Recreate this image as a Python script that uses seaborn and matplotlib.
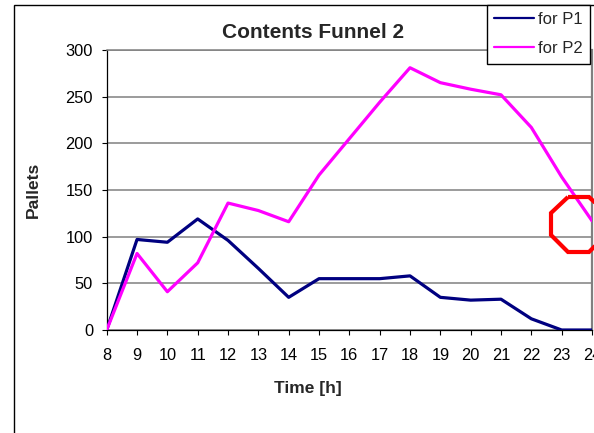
import pandas as pd
import matplotlib
matplotlib.use("Agg")
import matplotlib.pyplot as plt
from matplotlib.patches import Polygon, Rectangle
import seaborn as sns

# Hourly contents of funnel 2 (pallets)
hours = list(range(8, 25))
p1_pallets = [0, 97, 94, 119, 96, 66, 35, 55, 55, 55, 58, 35, 32, 33, 12, 0, 0]
p2_pallets = [0, 82, 41, 72, 136, 128, 116, 166, 205, 244, 281, 265, 258, 252, 217, 164, 117]
series_names = ["for P1", "for P2"]
y_ticks = [0, 50, 100, 150, 200, 250, 300]

df = pd.DataFrame({
    "Time": hours * 2,
    "Pallets": p1_pallets + p2_pallets,
    "Series": [series_names[0]] * len(hours) + [series_names[1]] * len(hours),
})

sns.set_style("white")
plt.rcParams["font.family"] = ["Liberation Sans", "DejaVu Sans"]

W, H = 594, 433
fig = plt.figure(figsize=(W / 100, H / 100), dpi=100)


def fx(px):
    return px / W


def fy(py):
    return 1 - py / H


# chart-area frame (extends past the right and bottom edges)
fig.add_artist(Rectangle((fx(13.5), -0.3), 1.5, fy(4.7) + 0.3,
                         transform=fig.transFigure, fill=False,
                         edgecolor="black", linewidth=1.0, zorder=0))

left, right, top, bottom = 106.7, 592, 50, 330
ax = fig.add_axes([fx(left), fy(bottom), (right - left) / W, (bottom - top) / H])
ax.set_facecolor("white")

palette = {series_names[0]: "#000080", series_names[1]: "#FF00FF"}
sns.lineplot(data=df, x="Time", y="Pallets", hue="Series", palette=palette,
             linewidth=2.3, ax=ax, legend=False, zorder=3)

ax.set_xlim(8, 24)
ax.set_ylim(0, 300)
ax.set_xticks(hours)
ax.set_yticks(y_ticks)
ax.yaxis.grid(True, color="#808080", linewidth=1.1)
ax.xaxis.grid(False)
ax.set_axisbelow(True)

ax.tick_params(axis="both", direction="out", length=3.8, width=0.8,
               color="black", labelsize=11.8, labelcolor="black")
ax.tick_params(axis="x", bottom=True, pad=9.5)
ax.tick_params(axis="y", left=True, pad=6)

for side in ("left", "bottom"):
    ax.spines[side].set_color("black")
    ax.spines[side].set_linewidth(0.9)
ax.spines["right"].set_color("#808080")
ax.spines["right"].set_linewidth(1.6)
ax.spines["top"].set_color("#808080")
ax.spines["top"].set_linewidth(1.1)

ax.set_xlabel("Time [h]", fontsize=12.5, fontweight="bold")
ax.xaxis.set_label_coords((308 - left) / (right - left), (bottom - 381) / (bottom - top))
ax.set_ylabel("Pallets", fontsize=12.5, fontweight="bold")
ax.yaxis.set_label_coords((40.5 - left) / (right - left), 0.5)

fig.text(fx(313), fy(32), "Contents Funnel 2", ha="center", va="center",
         fontsize=15, fontweight="bold")

handles = ax.get_lines()[:2]
leg = fig.legend(handles, series_names, loc="upper left",
                 bbox_to_anchor=(fx(487), fy(4.7)), bbox_transform=fig.transFigure,
                 borderaxespad=0, fontsize=12, handlelength=2.4, handletextpad=0.2,
                 labelspacing=0.85, borderpad=0.44, fancybox=False, framealpha=1,
                 edgecolor="black", frameon=True)
leg.get_frame().set_linewidth(1.0)
for ln in leg.get_lines():
    ln.set_linewidth(1.6)

# red octagon marker shape near the right edge
octagon_px = [(568, 197), (589, 197), (606, 213), (606, 235),
              (589, 252), (568, 252), (551, 235), (551, 213)]
fig.add_artist(Polygon([(fx(x), fy(y)) for x, y in octagon_px], closed=True,
                       transform=fig.transFigure, fill=False,
                       edgecolor="#FF0000", linewidth=3.0, zorder=5))

fig.savefig("out.png", dpi=100)
